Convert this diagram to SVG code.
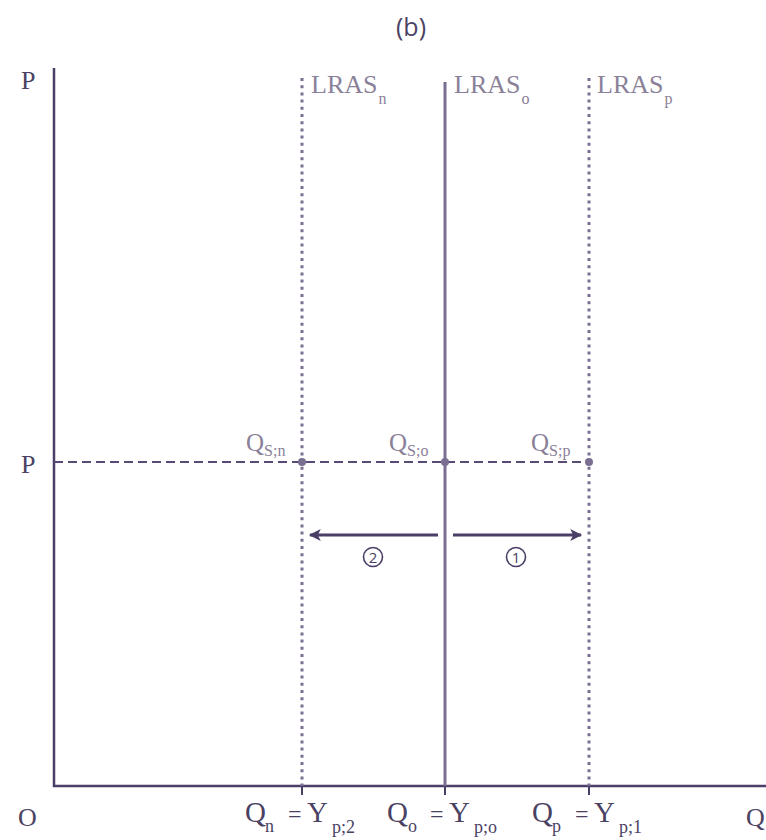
<svg xmlns="http://www.w3.org/2000/svg" width="766" height="840" viewBox="0 0 766 840">
  <style>
    .axis { stroke: #4b3f68; stroke-width: 2.5; fill: none; }
    .tick { stroke: #4b3f68; stroke-width: 2; }
    .dotted { stroke: #7a6f92; stroke-width: 3; stroke-dasharray: 3 4.2; fill: none; }
    .solid { stroke: #7a6f92; stroke-width: 3; fill: none; }
    .dashed { stroke: #574a76; stroke-width: 2; stroke-dasharray: 9 5; fill: none; }
    .arrow { stroke: #4b3f68; stroke-width: 3; fill: none; }
    .dot { fill: #7a6f92; }
    .lbl { font-family: "Liberation Serif", "DejaVu Serif", serif; fill: #4b4263; }
    .grey { fill: #8a8199; }
    .big { font-size: 26px; }
    .bot { font-size: 29px; }
    .eq { font-size: 24px; }
    .bsub { font-size: 18px; }
    .sub { font-size: 16px; }
    .qs { font-size: 25px; }
    .qsub { font-size: 16px; }
    .num { font-family: "Open Sans", "Liberation Sans", sans-serif; font-size: 15px; fill: #4b4263; }
    .ring { stroke: #4b3f68; stroke-width: 1.6; fill: none; }
  </style>
  <defs>
    <marker id="arrowhead" viewBox="0 0 10 10" refX="9" refY="5" markerWidth="16" markerHeight="12" markerUnits="userSpaceOnUse" orient="auto">
      <path d="M0,0 L10,5 L0,10 L2.5,5 Z" fill="#4b3f68"/>
    </marker>
  </defs>

  <!-- panel title -->
  <text x="411" y="36" text-anchor="middle" font-family="Open Sans, Liberation Sans, sans-serif" font-size="25" fill="#4b4263">(b)</text>

  <!-- axes -->
  <g id="axes">
    <path class="axis" d="M54,68 V786 H766"/>
    <text class="lbl big" x="21" y="89">P</text>
    <text class="lbl big" x="21" y="473">P</text>
    <text class="lbl big" x="18" y="826">O</text>
    <text class="lbl big" x="746" y="826">Q</text>
  </g>

  <!-- long-run aggregate supply curves -->
  <g id="lras-n">
    <line class="dotted" x1="302" y1="78" x2="302" y2="786"/>
    <text class="lbl grey big" x="311" y="93">LRAS<tspan class="sub" dx="1" dy="11">n</tspan></text>
  </g>
  <g id="lras-o">
    <line class="solid" x1="445" y1="82" x2="445" y2="786"/>
    <text class="lbl grey big" x="454" y="93">LRAS<tspan class="sub" dx="1" dy="11">o</tspan></text>
  </g>
  <g id="lras-p">
    <line class="dotted" x1="589" y1="78" x2="589" y2="786"/>
    <text class="lbl grey big" x="597" y="93">LRAS<tspan class="sub" dx="1" dy="11">p</tspan></text>
  </g>

  <!-- price line, shift arrows and axis ticks -->
  <g id="connectors">
    <line class="dashed" x1="54" y1="462" x2="589" y2="462"/>
    <line class="arrow" x1="438" y1="535" x2="310" y2="535" marker-end="url(#arrowhead)"/>
    <line class="arrow" x1="453" y1="535" x2="581" y2="535" marker-end="url(#arrowhead)"/>
    <line class="tick" x1="302" y1="786" x2="302" y2="795"/>
    <line class="tick" x1="445" y1="786" x2="445" y2="795"/>
    <line class="tick" x1="589" y1="786" x2="589" y2="795"/>
  </g>

  <g id="qs-n">
    <circle class="dot" cx="302" cy="462" r="4"/>
    <text class="lbl grey qs" x="246" y="451">Q<tspan class="qsub" dy="5">S;n</tspan></text>
  </g>
  <g id="qs-o">
    <circle class="dot" cx="445" cy="462" r="4"/>
    <text class="lbl grey qs" x="389" y="451">Q<tspan class="qsub" dy="5">S;o</tspan></text>
  </g>
  <g id="qs-p">
    <circle class="dot" cx="589" cy="462" r="4"/>
    <text class="lbl grey qs" x="531" y="451">Q<tspan class="qsub" dy="5">S;p</tspan></text>
  </g>

  <!-- shift steps -->
  <g id="step-2">
    <circle class="ring" cx="373" cy="557" r="9.5"/>
    <text class="num" x="373" y="562.5" text-anchor="middle">2</text>
  </g>
  <g id="step-1">
    <circle class="ring" cx="516" cy="557" r="9.5"/>
    <text class="num" x="516" y="562.5" text-anchor="middle">1</text>
  </g>

  <!-- quantity labels -->
  <g id="q-n" class="lbl">
    <text class="bot" x="245" y="822">Q</text>
    <text class="bsub" x="265" y="832">n</text>
    <text class="eq" x="288" y="822">=</text>
    <text class="bot" x="307" y="822">Y</text>
    <text class="bsub" x="332" y="833">p;2</text>
  </g>
  <g id="q-o" class="lbl">
    <text class="bot" x="387" y="822">Q</text>
    <text class="bsub" x="408" y="832">o</text>
    <text class="eq" x="430" y="822">=</text>
    <text class="bot" x="449" y="822">Y</text>
    <text class="bsub" x="474" y="833">p;o</text>
  </g>
  <g id="q-p" class="lbl">
    <text class="bot" x="532" y="822">Q</text>
    <text class="bsub" x="552" y="832">p</text>
    <text class="eq" x="575" y="822">=</text>
    <text class="bot" x="594" y="822">Y</text>
    <text class="bsub" x="619" y="833">p;1</text>
  </g>
</svg>
